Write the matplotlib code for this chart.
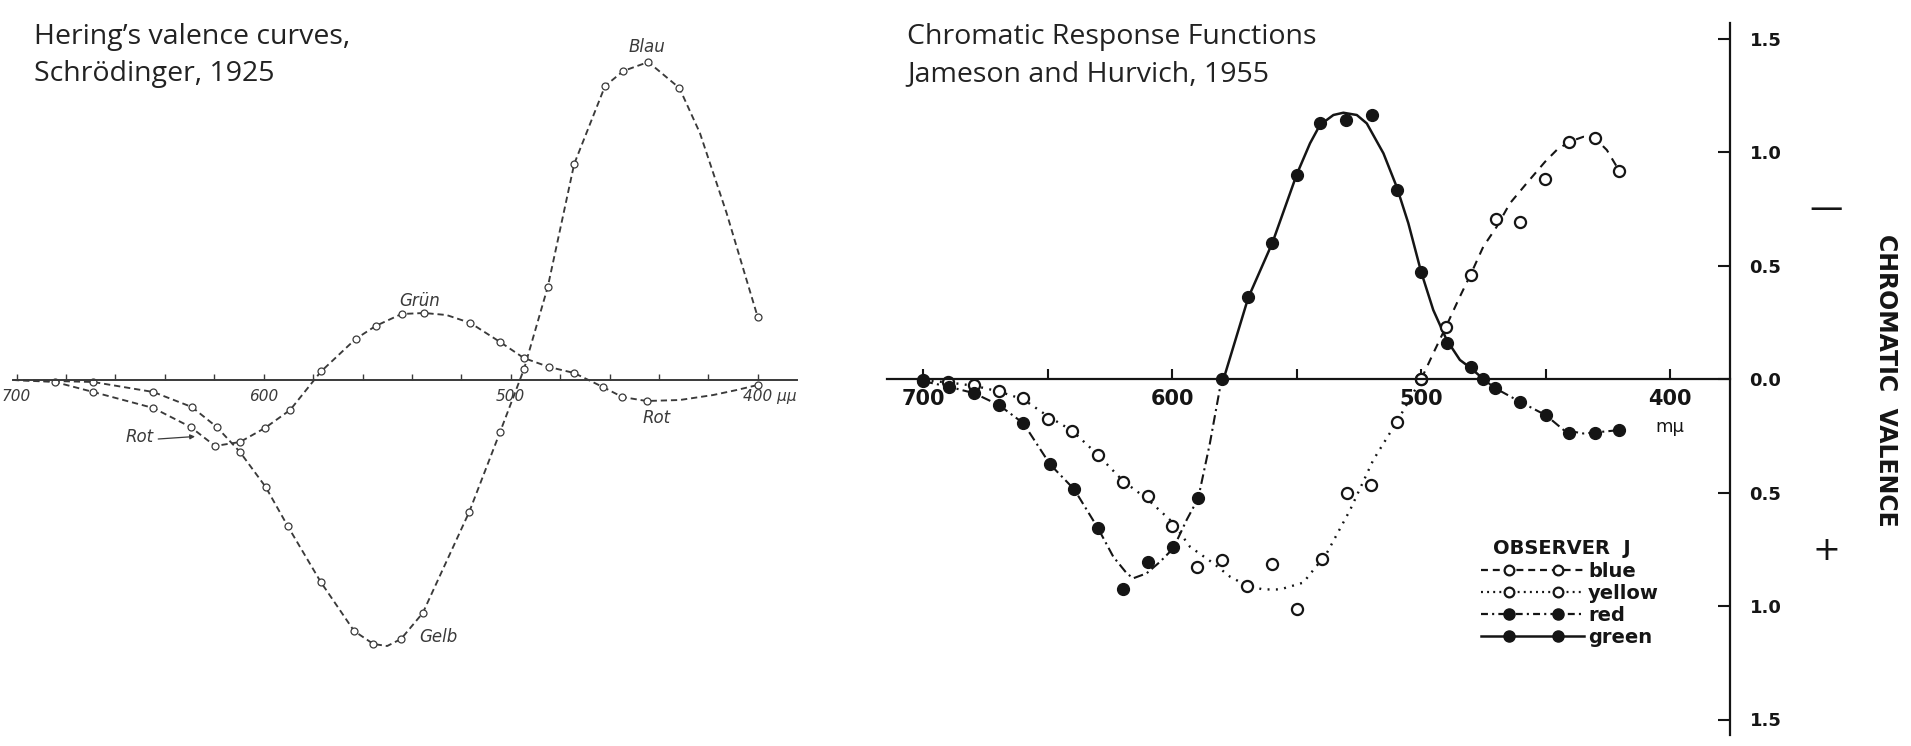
import matplotlib.pyplot as plt
import numpy as np
from matplotlib.legend_handler import HandlerLine2D
from matplotlib.lines import Line2D
from matplotlib.ticker import FuncFormatter

plt.rcParams["lines.scale_dashes"] = False

W_PX, H_PX = 1911, 746
PT = 0.72  # points per pixel at dpi 100

# ---------------------------------------------------------------------------
# Left panel: Hering's valence curves (Schroedinger 1925), arbitrary units
# ---------------------------------------------------------------------------
GB_NM  = [669.0, 644.7, 629.1, 619.0, 609.6, 599.2, 590.3, 576.9, 563.4, 555.6,
          544.4, 535.6, 516.8, 504.3, 494.6, 485.0, 474.3, 461.8, 454.4, 444.3,
          431.7, 400.0]
GB_VAL = [-0.02, -0.12, -0.27, -0.47, -0.72, -1.07, -1.46, -2.02, -2.51, -2.64,
          -2.59, -2.33, -1.32, -0.52, 0.11, 0.93, 2.16, 2.94, 3.09, 3.18,
          2.92, 0.63]
# extra positions of the drawn curve where no circle sits
GB_TRACE_NM  = [701.5, 550.0, 423.4, 412.6, 404.5]
GB_TRACE_VAL = [0.0, -2.66, 2.47, 1.67, 1.00]

GR_NM  = [684.5, 669.0, 644.7, 629.6, 619.7, 609.6, 599.5, 589.3, 576.8, 562.8,
          554.7, 544.2, 535.0, 516.3, 504.3, 494.7, 484.5, 474.3, 462.7, 454.8,
          445.0, 400.0]
GR_VAL = [-0.02, -0.12, -0.28, -0.47, -0.66, -0.62, -0.48, -0.30, 0.085, 0.41,
          0.54, 0.66, 0.67, 0.57, 0.38, 0.22, 0.13, 0.07, -0.07, -0.17,
          -0.21, -0.05]
GR_TRACE_NM  = [701.5, 526.0, 431.5, 418.0, 408.5]
GR_TRACE_VAL = [0.0, 0.65, -0.20, -0.15, -0.10]

L_TICKS        = [700, 600, 500, 400]
L_TICK_LABELS  = ["700", "600", "500", "400 μμ"]
L_CURVE_LABELS = [("Blau", 444.9, 3.33), ("Grün", 536.7, 0.79),
                  ("Rot", 440.9, -0.38), ("Gelb", 529.3, -2.57),
                  ("Rot", 650.1, -0.57)]

# ---------------------------------------------------------------------------
# Right panel: Jameson & Hurvich 1955, observer J (plotted: - valence up)
# ---------------------------------------------------------------------------
BLUE_NM  = [500.0, 490.1, 480.2, 469.9, 460.2, 450.3, 440.6, 430.2, 420.5]
BLUE_VAL = [0.0, 0.23, 0.46, 0.707, 0.693, 0.881, 1.045, 1.06, 0.917]
BLUE_LINE_NM  = [500.0, 495.2, 490.1, 484.5, 480.2, 475.1, 469.7, 464.4, 457.7,
                 450.3, 445.6, 440.6, 434.9, 430.2, 425.5, 420.5]
BLUE_LINE_VAL = [0.0, 0.113, 0.23, 0.363, 0.46, 0.583, 0.671, 0.774, 0.862,
                 0.957, 1.009, 1.045, 1.067, 1.06, 1.009, 0.917]

YELLOW_NM  = [700.0, 690.0, 679.5, 669.6, 659.8, 649.8, 640.2, 629.8, 619.7,
              609.9, 600.0, 590.0, 580.2, 570.1, 560.1, 550.1, 540.0, 530.0,
              520.0, 509.8, 500.0]
YELLOW_VAL = [-0.005, -0.015, -0.026, -0.053, -0.085, -0.176, -0.228, -0.335,
              -0.455, -0.514, -0.646, -0.827, -0.797, -0.91, -0.815, -1.013,
              -0.795, -0.504, -0.467, -0.188, 0.0]
YELLOW_LINE_NM  = [700.0, 689.3, 679.5, 669.6, 659.8, 649.8, 640.2, 629.8,
                   619.7, 609.9, 600.0, 592.9, 583.5, 576.8, 570.1, 563.5,
                   556.7, 547.4, 538.0, 528.6, 519.3, 509.8, 500.0]
YELLOW_LINE_VAL = [-0.005, -0.016, -0.03, -0.055, -0.09, -0.165, -0.228, -0.335,
                   -0.45, -0.53, -0.63, -0.739, -0.812, -0.871, -0.91, -0.927,
                   -0.927, -0.897, -0.768, -0.577, -0.357, -0.188, 0.0]

RED_NM  = [700.0, 689.7, 679.5, 669.6, 659.8, 649.1, 639.4, 629.8, 619.7, 609.9,
           599.6, 589.6, 580.2, 475.2, 470.4, 460.4, 449.9, 440.5, 430.2, 420.5]
RED_VAL = [-0.01, -0.034, -0.063, -0.115, -0.195, -0.376, -0.486, -0.658,
           -0.927, -0.805, -0.742, -0.526, 0.0, 0.0, -0.04, -0.10, -0.16,
           -0.24, -0.237, -0.225]
RED_LONG_LINE_NM  = [700.0, 689.7, 679.5, 669.6, 659.8, 649.1, 639.4, 629.8,
                     623.7, 618.3, 615.7, 610.3, 604.9, 599.6, 594.2, 589.6,
                     584.9, 580.2]
RED_LONG_LINE_VAL = [-0.01, -0.034, -0.063, -0.115, -0.195, -0.376, -0.486,
                     -0.658, -0.783, -0.856, -0.878, -0.856, -0.805, -0.746,
                     -0.62, -0.526, -0.283, 0.0]
RED_SHORT_LINE_NM  = [475.2, 470.4, 460.4, 449.9, 442.8, 434.9, 426.9, 420.5]
RED_SHORT_LINE_VAL = [0.0, -0.04, -0.10, -0.16, -0.225, -0.24, -0.232, -0.225]

GREEN_NM  = [569.5, 559.9, 550.0, 540.7, 530.3, 519.9, 509.8, 500.1, 489.8,
             480.1]
GREEN_VAL = [0.36, 0.60, 0.90, 1.126, 1.14, 1.163, 0.833, 0.473, 0.157, 0.051]
GREEN_LINE_NM  = [579.4, 569.5, 559.8, 550.0, 544.7, 540.7, 535.3, 531.3,
                  525.9, 521.9, 515.2, 509.9, 505.2, 500.1, 495.2, 489.8,
                  484.5, 480.0, 475.1]
GREEN_LINE_VAL = [0.0, 0.358, 0.60, 0.902, 1.038, 1.119, 1.163, 1.173, 1.163,
                  1.126, 0.994, 0.847, 0.686, 0.473, 0.304, 0.172, 0.084,
                  0.047, 0.0]

R_XTICKS       = [700, 650, 600, 550, 500, 450, 400]
R_XTICK_LABELS = ["700", "", "600", "", "500", "", "400"]
R_YTICKS       = [1.5, 1.0, 0.5, 0.0, -0.5, -1.0, -1.5]
LEGEND_LABELS  = ["blue", "yellow", "red", "green"]

INK_L = "#3a3a3a"
INK_R = "#151515"


def full_axes(fig, ref_val, ref_px, px_per_val, zero_py, px_per_unit):
    """Axes spanning the whole figure, so data maps onto reference pixels."""
    ax = fig.add_axes([0, 0, 1, 1])
    ax.set_xlim(ref_val + ref_px / px_per_val,
                ref_val - (W_PX - ref_px) / px_per_val)
    ax.set_ylim(-(H_PX - zero_py) / px_per_unit, zero_py / px_per_unit)
    ax.patch.set_visible(False)
    for side in ("top", "left", "right", "bottom"):
        ax.spines[side].set_visible(False)
    return ax


def merged(nm, val, tr_nm, tr_val):
    x = np.concatenate([nm, tr_nm])
    y = np.concatenate([val, tr_val])
    order = np.argsort(-x)
    return x[order], y[order]


class InsetMarkers(HandlerLine2D):
    # line spans the full handle, two markers sit inside it
    def create_artists(self, legend, orig_handle, xdescent, ydescent,
                       width, height, fontsize, trans):
        x0 = -xdescent
        xdata = np.array([x0, x0 + 0.27 * width, x0 + 0.75 * width, x0 + width])
        ydata = np.full_like(xdata, (height - ydescent) / 2)
        legline = Line2D(xdata, ydata)
        self.update_prop(legline, orig_handle, legend)
        legline.set_markevery([1, 2])
        legline.set_transform(trans)
        return [legline]


fig = plt.figure(figsize=(W_PX / 100, H_PX / 100), dpi=100)
fig.patch.set_facecolor("white")

# ---------------- left panel ----------------
ax_l = full_axes(fig, 700, 16.7, 2.47, 380, 100)
ax_l.spines["bottom"].set_visible(True)
ax_l.spines["bottom"].set_position(("data", 0))
ax_l.spines["bottom"].set_bounds(701.5, 384.2)
ax_l.spines["bottom"].set_color(INK_L)
ax_l.spines["bottom"].set_linewidth(1.4)
ax_l.set_xticks(np.arange(400, 701, 20))
ax_l.set_yticks([])
ax_l.tick_params(axis="x", direction="in", length=4, width=1.0,
                 color=INK_L, labelbottom=False)

dash_l = (0, (4.5, 2.8))
for nm, val, tnm, tval in [(GB_NM, GB_VAL, GB_TRACE_NM, GB_TRACE_VAL),
                           (GR_NM, GR_VAL, GR_TRACE_NM, GR_TRACE_VAL)]:
    lx, ly = merged(nm, val, tnm, tval)
    ax_l.plot(lx, ly, color=INK_L, lw=1.35, linestyle=dash_l)
    ax_l.plot(nm, val, linestyle="none", marker="o", ms=5, mew=0.9,
              mfc="white", mec=INK_L)

for val, lab in zip(L_TICKS, L_TICK_LABELS):
    left = lab.endswith("μμ")
    ax_l.annotate(lab, (val, 0), xytext=(-15 * PT if left else 0, -17 * PT),
                  textcoords="offset points", ha="left" if left else "center",
                  va="center", fontsize=11, style="italic", color=INK_L)

for lab, x, y in L_CURVE_LABELS:
    ax_l.text(x, y, lab, ha="center", va="center", fontsize=12,
              style="italic", color=INK_L)
ax_l.annotate("", xy=(627.8, -0.565), xytext=(642.7, -0.59),
              arrowprops=dict(arrowstyle="-|>", color=INK_L, lw=0.9,
                              mutation_scale=7, shrinkA=0, shrinkB=0))

# ---------------- right panel ----------------
ax_r = full_axes(fig, 700, 923.3, 2.49, 379, 227)
ax_r.spines["bottom"].set_visible(True)
ax_r.spines["bottom"].set_position(("data", 0))
ax_r.spines["bottom"].set_bounds(714.6, 376.0)
ax_r.spines["right"].set_visible(True)
ax_r.spines["right"].set_position(("data", 376.0))
ax_r.spines["right"].set_bounds(-1.57, 1.57)
for side in ("bottom", "right"):
    ax_r.spines[side].set_color(INK_R)
    ax_r.spines[side].set_linewidth(1.6)

ax_r.set_xticks(R_XTICKS, R_XTICK_LABELS)
ax_r.tick_params(axis="x", direction="in", length=7, width=1.5, color=INK_R,
                 pad=7, labelsize=15, labelcolor=INK_R)
for t in ax_r.get_xticklabels():
    t.set_fontweight("bold")
ax_r.yaxis.tick_right()
ax_r.set_yticks(R_YTICKS)
ax_r.yaxis.set_major_formatter(FuncFormatter(lambda v, _: f"{abs(v):.1f}"))
ax_r.tick_params(axis="y", direction="in", length=9, width=1.5, color=INK_R,
                 pad=14, labelsize=13, labelcolor=INK_R)
for t in ax_r.get_yticklabels():
    t.set_fontweight("bold")
ax_r.annotate("mμ", (400, 0), xytext=(0, -48 * PT), textcoords="offset points",
              ha="center", va="center", fontsize=13, color=INK_R)

open_kw = dict(linestyle="none", marker="o", ms=8, mew=1.6, mfc="white",
               mec=INK_R)
fill_kw = dict(linestyle="none", marker="o", ms=8.5, color=INK_R)

st_blue   = (0, (6, 5))
st_yellow = (0, (1.4, 4.6))
st_red    = (0, (7, 3, 1.5, 3))

ax_r.plot(BLUE_LINE_NM, BLUE_LINE_VAL, color=INK_R, lw=1.5, linestyle=st_blue)
ax_r.plot(YELLOW_LINE_NM, YELLOW_LINE_VAL, color=INK_R, lw=1.7,
          linestyle=st_yellow)
ax_r.plot(RED_LONG_LINE_NM, RED_LONG_LINE_VAL, color=INK_R, lw=1.5,
          linestyle=st_red)
ax_r.plot(RED_SHORT_LINE_NM, RED_SHORT_LINE_VAL, color=INK_R, lw=1.5,
          linestyle=st_red)
ax_r.plot(GREEN_LINE_NM, GREEN_LINE_VAL, color=INK_R, lw=1.8)

ax_r.plot(BLUE_NM, BLUE_VAL, **open_kw)
ax_r.plot(YELLOW_NM, YELLOW_VAL, **open_kw)
ax_r.plot(RED_NM, RED_VAL, **fill_kw)
ax_r.plot(GREEN_NM, GREEN_VAL, **fill_kw)

handles = [
    Line2D([], [], color=INK_R, lw=1.6, linestyle=(0, (5, 3.5)), marker="o",
           ms=7, mew=1.6, mfc="white", mec=INK_R),
    Line2D([], [], color=INK_R, lw=1.6, linestyle=(0, (1.4, 3)), marker="o",
           ms=7, mew=1.6, mfc="white", mec=INK_R),
    Line2D([], [], color=INK_R, lw=1.6, linestyle=(0, (5, 3, 1.5, 3)),
           marker="o", ms=8),
    Line2D([], [], color=INK_R, lw=1.8, marker="o", ms=8),
]
leg = ax_r.legend(handles, LEGEND_LABELS, loc="upper left",
                  bbox_to_anchor=(1481 / W_PX, 1 - 562 / H_PX),
                  bbox_transform=fig.transFigure, frameon=False,
                  prop=dict(size=14, weight="bold"), borderpad=0,
                  borderaxespad=0, handlelength=5.3, handletextpad=0.2,
                  labelspacing=0.15, handler_map={Line2D: InsetMarkers()})
for t in leg.get_texts():
    t.set_color(INK_R)
fig.text(1493 / W_PX, 1 - 548 / H_PX, "OBSERVER  J", ha="left", va="center",
         fontsize=14, fontweight="bold", color=INK_R)

fig.text(1826 / W_PX, 1 - 208 / H_PX, "—", ha="center", va="center",
         fontsize=24, color=INK_R)
fig.text(1826 / W_PX, 1 - 550 / H_PX, "+", ha="center", va="center",
         fontsize=24, color=INK_R)
fig.text(1886 / W_PX, 1 - 380 / H_PX, "CHROMATIC  VALENCE", rotation=-90,
         ha="center", va="center", fontsize=17, fontweight="bold",
         color=INK_R)

# ---------------- titles ----------------
title_kw = dict(family="Open Sans", fontsize=20.5, color="#222222",
                ha="left", va="center")
fig.text(34 / W_PX, 1 - 37 / H_PX, "Hering’s valence curves,", **title_kw)
fig.text(34 / W_PX, 1 - 74 / H_PX, "Schrödinger, 1925", **title_kw)
fig.text(907 / W_PX, 1 - 37 / H_PX, "Chromatic Response Functions", **title_kw)
fig.text(907 / W_PX, 1 - 74 / H_PX, "Jameson and Hurvich, 1955", **title_kw)

fig.savefig("out.png", dpi=100, facecolor="white")
